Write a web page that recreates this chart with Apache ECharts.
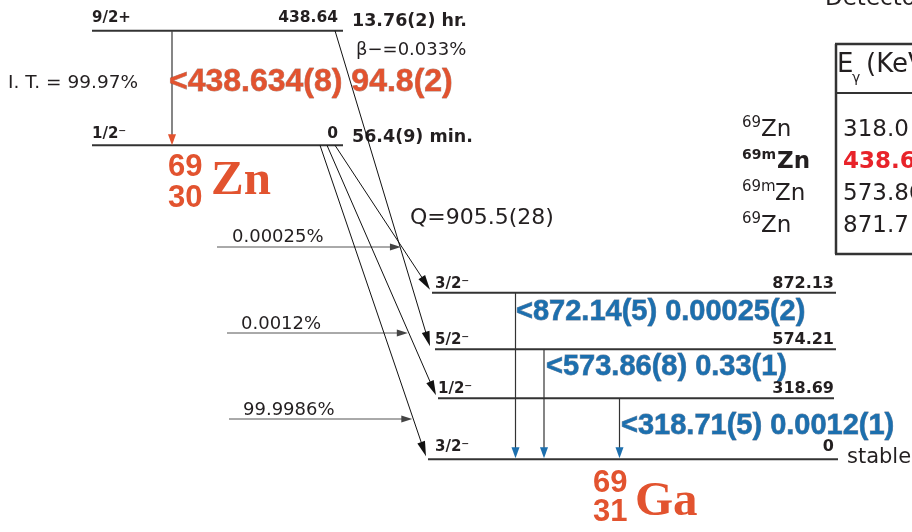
<!DOCTYPE html>
<html>
<head>
<meta charset="utf-8">
<script src="https://cdn.jsdelivr.net/npm/echarts@6/dist/echarts.min.js"></script>
<style>html,body{margin:0;padding:0;background:#fff}#chart{width:912px;height:532px}</style>
</head>
<body>
<div id="chart"></div>
<script>
// ================= DATA =================
const parentMassZ = ['69', '30'];
const parentSymbol = 'Zn';
const daughterMassZ = ['69', '31'];
const daughterSymbol = 'Ga';

const parentSpins = ['9/2+', '1/2\u207B'];
const parentEnergies = ['438.64', '0'];
const parentHalfLives = ['13.76(2) hr.', '56.4(9) min.'];
const isomerBranches = ['I. T. = 99.97%', '\u03B2\u2212=0.033%'];
const isomerGamma = '<438.634(8) 94.8(2)';
const isomerBetaTarget = 1;

const daughterSpins = ['3/2\u207B', '5/2\u207B', '1/2\u207B', '3/2\u207B'];
const daughterEnergies = ['872.13', '574.21', '318.69', '0'];
const daughterStability = 'stable';

const betaFeedLabels = ['0.00025%', '0.0012%', '99.9986%'];
const betaFeedTargets = [0, 2, 3];

const gammaLabels = ['<872.14(5) 0.00025(2)', '<573.86(8) 0.33(1)', '<318.71(5) 0.0012(1)'];
const gammaFromLevels = [0, 1, 2];

const qValueLabel = 'Q=905.5(28)';

const tableTitle = 'Detector';
const tableHeader = ['E', '\u03B3', '(KeV)'];
const tableSourceMass = ['69', '69m', '69m', '69'];
const tableSourceSymbol = 'Zn';
const tableEnergies = ['318.0', '438.63', '573.86', '871.7'];
const tableHighlightRow = 1;

// ================= LAYOUT (drawing space, px) =================
const L = {
  parentX: [92, 343], parentY: [30.7, 145.3],
  parentLabelY: [18, 134], parentHalfLifeY: [21.5, 137], halfLifeX: 352, parentEnergyX: 338,
  daughterX1: [432, 435, 438, 428], daughterX2: [836, 836, 834, 838],
  daughterY: [292.7, 349.3, 398.3, 459.3], daughterLabelY: [284, 340, 389, 447],
  daughterSpinX: [435, 435, 438, 435], daughterEnergyX: 834,
  arrowTipX: [430, 430, 436, 426], arrowTipLift: 3,
  stable: [847, 458],
  itX: 172, itLabel: [169, 82], itBranch: [8, 83], betaBranch: [356, 50.5],
  isomerBetaStartX: 335,
  feedStartX: [335, 327, 320], feedArrowY: [247, 333, 419], feedArrowX0: [217, 227, 229],
  feedLabel: [[232, 237], [241, 324], [243, 410]],
  gammaX: [515.5, 544, 619.5], gammaLabel: [[516, 312], [546, 367], [621, 426]],
  parentNuc: { massX: 168, massY: 167, zY: 198, symX: 211, symY: 181.5 },
  daughterNuc: { massX: 593, massY: 483, zY: 512, symX: 635, symY: 502 },
  qValue: [410, 218],
  table: { x: 836, top: 44, bottom: 254, right: 930, headLine: 93, title: [825, -1],
           headY: 65, rowY: [130.5, 162.5, 194, 226], supX: 742, symX: [761, 777, 775, 761], valX: 843 }
};

// ================= STYLE =================
const DARK = '#231f20', LINE = '#333333', RED = '#e2532f', BLUE = '#1c6fae', HOT = '#e8232a';
const SANS = '"DejaVu Sans"', ARIAL = '"Liberation Sans"', SERIF = '"Liberation Serif"';

// ================= HELPERS =================
function P(api, x, y) { return api.coord([x, y]); }
function seg(api, x1, y1, x2, y2, stroke, w) {
  const a = P(api, x1, y1), b = P(api, x2, y2);
  return { type: 'line', shape: { x1: a[0], y1: a[1], x2: b[0], y2: b[1] }, style: { stroke: stroke, lineWidth: w } };
}
function arrow(api, fx, fy, tx, ty, stroke, w, len, hw, fill) {
  const a = P(api, fx, fy), b = P(api, tx, ty);
  const dx = b[0] - a[0], dy = b[1] - a[1], d = Math.hypot(dx, dy);
  const ux = dx / d, uy = dy / d;
  const bx = b[0] - ux * len, by = b[1] - uy * len;
  return [
    { type: 'line', shape: { x1: a[0], y1: a[1], x2: b[0] - ux * len * 0.6, y2: b[1] - uy * len * 0.6 }, style: { stroke: stroke, lineWidth: w } },
    { type: 'polygon', shape: { points: [[b[0], b[1]], [bx - uy * hw, by + ux * hw], [bx + uy * hw, by - ux * hw]] }, style: { fill: fill } }
  ];
}
function T(api, x, y, text, font, fill, align, extra) {
  const p = P(api, x, y);
  return { type: 'text', x: p[0], y: p[1], style: Object.assign({
    text: text, font: font, fill: fill,
    align: align || 'left', verticalAlign: 'middle', textAlign: align || 'left', textVerticalAlign: 'middle'
  }, extra || {}) };
}
function layer(name, arr, build, z) {
  return {
    type: 'custom', name: name, coordinateSystem: 'cartesian2d', silent: true, animation: false, z: z || 2,
    data: arr.map((v, i) => [i, i]),
    renderItem: (params, api) => ({ type: 'group', children: build(api.value(0), api) })
  };
}

// ================= SERIES =================
const parentLevelSeries = layer('parentLevels', parentEnergies, (i, api) => [
  seg(api, L.parentX[0], L.parentY[i], L.parentX[1], L.parentY[i], LINE, 2),
  T(api, L.parentX[0], L.parentLabelY[i], parentSpins[i], 'bold 15px ' + SANS, DARK),
  T(api, L.parentEnergyX, L.parentLabelY[i], parentEnergies[i], 'bold 15.5px ' + SANS, DARK, 'right'),
  T(api, L.halfLifeX, L.parentHalfLifeY[i], parentHalfLives[i], 'bold 17.5px ' + SANS, DARK)
]);

const daughterLevelSeries = layer('daughterLevels', daughterEnergies, (i, api) => [
  seg(api, L.daughterX1[i], L.daughterY[i], L.daughterX2[i], L.daughterY[i], LINE, 2),
  T(api, L.daughterSpinX[i], L.daughterLabelY[i], daughterSpins[i], 'bold 15px ' + SANS, DARK),
  T(api, L.daughterEnergyX, L.daughterLabelY[i], daughterEnergies[i], 'bold 16px ' + SANS, DARK, 'right')
]);

const isomerSeries = layer('isomer', [isomerGamma], (i, api) => {
  const tgt = isomerBetaTarget;
  return [].concat(
    arrow(api, L.itX, L.parentY[0], L.itX, L.parentY[1], '#444', 1.3, 11, 4, RED),
    arrow(api, L.isomerBetaStartX, L.parentY[0], L.arrowTipX[tgt], L.daughterY[tgt] - L.arrowTipLift, '#111', 1, 15, 4, '#111'),
    [
      T(api, L.itLabel[0], L.itLabel[1], isomerGamma, 'bold 32px ' + ARIAL, RED, 'left', { stroke: 'rgba(110,45,30,0.55)', lineWidth: 0.8 }),
      T(api, L.itBranch[0], L.itBranch[1], isomerBranches[0], '18.5px ' + SANS, DARK),
      T(api, L.betaBranch[0], L.betaBranch[1], isomerBranches[1], '18px ' + SANS, DARK)
    ]
  );
});

const feedSeries = layer('betaFeeds', betaFeedLabels, (i, api) => {
  const tgt = betaFeedTargets[i];
  const x0 = L.feedStartX[i], y0 = L.parentY[1];
  const x1 = L.arrowTipX[tgt], y1 = L.daughterY[tgt] - L.arrowTipLift;
  const ya = L.feedArrowY[i];
  const xa = x0 + (x1 - x0) * (ya - y0) / (y1 - y0);
  return [].concat(
    arrow(api, x0, y0, x1, y1, '#111', 1, 15, 4, '#111'),
    arrow(api, L.feedArrowX0[i], ya, xa - 1, ya, '#555', 1, 11, 3.5, '#444'),
    [T(api, L.feedLabel[i][0], L.feedLabel[i][1], betaFeedLabels[i], '18px ' + SANS, DARK)]
  );
});

const gammaSeries = layer('gammas', gammaLabels, (i, api) => {
  const from = gammaFromLevels[i];
  const ground = daughterEnergies.length - 1;
  return [].concat(
    arrow(api, L.gammaX[i], L.daughterY[from], L.gammaX[i], L.daughterY[ground] - 1, '#333', 1.2, 11, 4, BLUE),
    [T(api, L.gammaLabel[i][0], L.gammaLabel[i][1], gammaLabels[i], 'bold 29px ' + ARIAL, BLUE, 'left', { stroke: 'rgba(15,45,85,0.6)', lineWidth: 0.8 })]
  );
}, 3);

const nuclideSeries = layer('nuclides', [parentSymbol, daughterSymbol], (i, api) => {
  const pos = i === 0 ? L.parentNuc : L.daughterNuc;
  const mz = i === 0 ? parentMassZ : daughterMassZ;
  const sym = i === 0 ? parentSymbol : daughterSymbol;
  return [
    T(api, pos.massX, pos.massY, mz[0], 'bold 31px ' + ARIAL, RED),
    T(api, pos.massX, pos.zY, mz[1], 'bold 31px ' + ARIAL, RED),
    T(api, pos.symX, pos.symY, sym, 'bold 49px ' + SERIF, RED)
  ];
});

const miscSeries = layer('misc', [qValueLabel], (i, api) => [
  T(api, L.qValue[0], L.qValue[1], qValueLabel, '22px ' + SANS, DARK),
  T(api, L.stable[0], L.stable[1], daughterStability, '21px ' + SANS, DARK)
]);

const tableSeries = layer('table', tableEnergies, (i, api) => {
  const t = L.table;
  const out = [];
  if (i === 0) {
    out.push(seg(api, t.x, t.top, t.x, t.bottom, '#333', 2.5));
    out.push(seg(api, t.x - 1, t.top, t.right, t.top, '#333', 2.5));
    out.push(seg(api, t.x - 1, t.bottom, t.right, t.bottom, '#333', 2.5));
    out.push(seg(api, t.x, t.headLine, t.right, t.headLine, '#333', 2));
    out.push(T(api, t.title[0], t.title[1], tableTitle, '23px ' + SANS, DARK));
    out.push(T(api, t.x + 1, t.headY, tableHeader[0], '26px ' + SANS, DARK));
    out.push(T(api, t.x + 16, t.headY + 13, tableHeader[1], '14px ' + SANS, DARK));
    out.push(T(api, t.x + 30, t.headY, tableHeader[2], '26px ' + SANS, DARK));
  }
  const hot = i === tableHighlightRow;
  const w = hot ? 'bold ' : '';
  out.push(T(api, t.supX, t.rowY[i] - 7, tableSourceMass[i], w + (hot ? '14px ' : '15px ') + SANS, DARK));
  out.push(T(api, t.symX[i], t.rowY[i], tableSourceSymbol, w + '23px ' + SANS, DARK));
  out.push(T(api, t.valX, t.rowY[i], tableEnergies[i], w + '23px ' + SANS, hot ? HOT : DARK));
  return out;
});

const chart = echarts.init(document.getElementById('chart'), null, { renderer: 'canvas' });
chart.setOption({
  animation: false,
  backgroundColor: '#ffffff',
  grid: { left: 0, right: 0, top: 0, bottom: 0 },
  xAxis: { type: 'value', min: 0, max: 912, show: false },
  yAxis: { type: 'value', min: 0, max: 532, inverse: true, show: false },
  series: [parentLevelSeries, daughterLevelSeries, isomerSeries, feedSeries, gammaSeries, nuclideSeries, miscSeries, tableSeries]
});
</script>
</body>
</html>
